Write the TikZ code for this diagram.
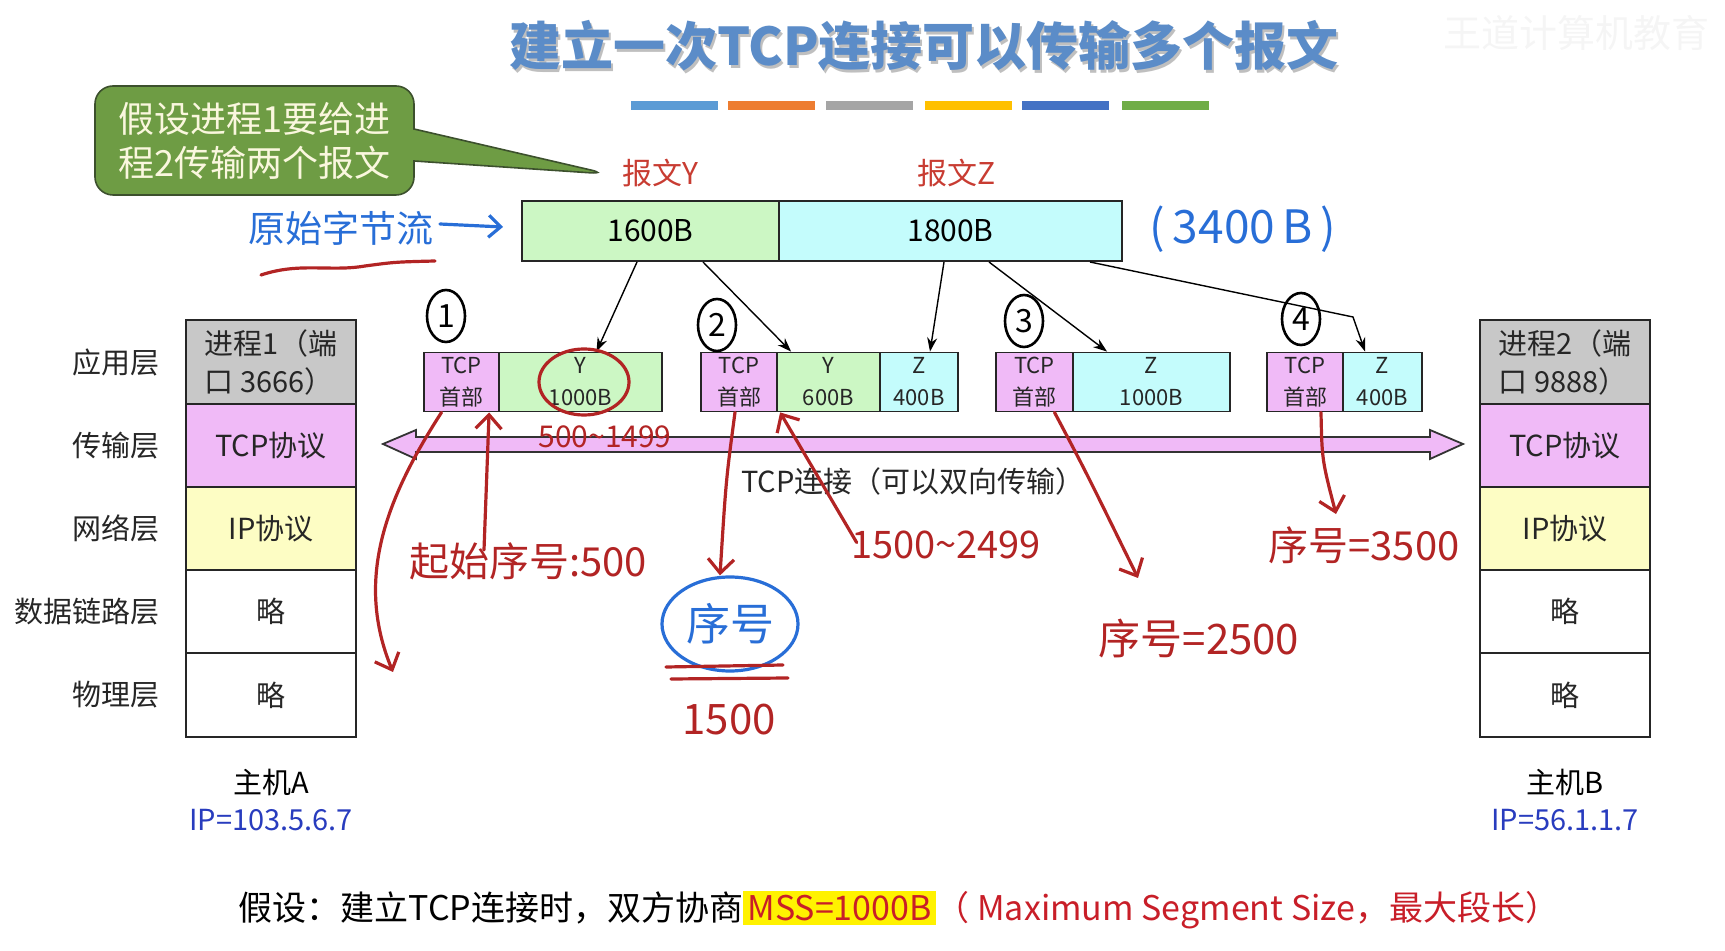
\documentclass[tikz,border=0pt]{standalone}
\usepackage{fontspec}
\setmainfont{Noto Sans CJK SC}
\usetikzlibrary{arrows.meta,shapes.geometric,shapes.callouts,calc}
\definecolor{tgray}{RGB}{200,200,200}
\definecolor{tpink}{RGB}{240,186,247}
\definecolor{tyel}{RGB}{253,253,196}
\definecolor{tgreen}{RGB}{204,247,196}
\definecolor{tcyan}{RGB}{196,252,252}
\definecolor{hred}{RGB}{178,36,36}
\definecolor{hblue}{RGB}{40,110,215}
\definecolor{lred}{RGB}{200,60,50}
\definecolor{ipblue}{RGB}{40,60,190}
\definecolor{ttl}{RGB}{91,140,200}
\definecolor{cgreen}{RGB}{110,156,68}
\definecolor{cedge}{RGB}{60,80,45}
\definecolor{ctext}{RGB}{250,247,222}
\definecolor{cb1}{RGB}{91,155,213}
\definecolor{cb2}{RGB}{237,125,49}
\definecolor{cb3}{RGB}{165,165,165}
\definecolor{cb4}{RGB}{255,192,0}
\definecolor{cb5}{RGB}{68,114,196}
\definecolor{cb6}{RGB}{112,173,71}
\definecolor{mssred}{RGB}{200,30,40}
\newcommand{\fs}[1]{\fontsize{#1}{#1}\selectfont}
\begin{document}
\begin{tikzpicture}[x=0.5pt,y=-0.5pt,
  cell/.style={draw=black!85, line width=1pt, minimum width=85pt, minimum height=41.7pt,
    inner sep=0pt, font=\fontsize{14.5}{19}\selectfont, align=center, text=black!85},
  layer/.style={anchor=east, inner sep=0pt, font=\fs{14.5}, text=black!85},
  seg/.style={draw=black!85, line width=0.9pt, minimum height=29.5pt, inner sep=0pt,
    font=\fontsize{11}{16}\selectfont, align=center, text=black!85},
  bar/.style={draw=black!85, line width=1pt, minimum height=30pt, inner sep=0pt, font=\fs{15}},
  feed/.style={-{Stealth[length=7pt,width=5pt]}, line width=0.7pt},
  hand/.style={hred, line width=1.6pt, line cap=round, line join=round},
  handarrow/.style={hand, -{Straight Barb[length=7pt,width=13pt]}},
  htext/.style={text=hred, inner sep=0pt},
  num/.style={draw, ellipse, line width=1.3pt, minimum width=19pt, minimum height=26pt,
    inner sep=0pt, font=\fs{16}},
  cbar/.style={minimum width=43.5pt, minimum height=4.5pt, inner sep=0pt},
  host/.style={inner sep=0pt, font=\fs{14.5}}
]
\useasboundingbox (0,0) rectangle (1725,951);

% watermark
\node[text=black!4, font=\fs{19}, inner sep=0pt] (wm) at (1576,33) {王道计算机教育};

% title
\node[text=black!25, font=\bfseries\fs{26}, inner sep=0pt] (titleshadow) at (926,49) {建立一次TCP连接可以传输多个报文};
\node[text=ttl, font=\bfseries\fs{26}, inner sep=0pt] (title) at (924,46) {建立一次TCP连接可以传输多个报文};

% colour bars
\node[cbar, fill=cb1] (cb1n) at (674.5,106) {};
\node[cbar, fill=cb2] (cb2n) at (771.5,106) {};
\node[cbar, fill=cb3] (cb3n) at (869.5,106) {};
\node[cbar, fill=cb4] (cb4n) at (968.5,106) {};
\node[cbar, fill=cb5] (cb5n) at (1065.5,106) {};
\node[cbar, fill=cb6] (cb6n) at (1165,106) {};

% callout
\node[rectangle callout, rounded corners=9pt, fill=cgreen, draw=cedge, line width=0.8pt,
  minimum width=159.5pt, minimum height=54.5pt, inner sep=0pt, align=left,
  callout absolute pointer={(608,174)}, callout pointer width=16pt,
  text=ctext, font=\fontsize{18}{22}\selectfont] (callout) at (254.5,140.5)
  {假设进程1要给进\\程2传输两个报文};

% message labels
\node[text=lred, font=\fs{15}, inner sep=0pt] (lY) at (660,173) {报文Y};
\node[text=lred, font=\fs{15}, inner sep=0pt] (lZ) at (957,173) {报文Z};

% top byte stream
\node[bar, fill=tgreen, minimum width=128.5pt] (bY) at (650.5,231) {1600B};
\node[bar, fill=tcyan, minimum width=171.5pt] (bZ) at (950.5,231) {1800B};

% handwritten blue
\node[text=hblue, font=\fs{18.5}, inner sep=0pt] (ys) at (341,228) {原始字节流};
\draw[hblue, line width=1.6pt, line cap=round, -{Straight Barb[length=6pt,width=11pt]}]
  ([xshift=3pt,yshift=2pt]ys.east) -- ([xshift=-9pt,yshift=2pt]bY.west);
\draw[hand] (261,275) .. controls (300,262) and (330,272) .. (365,266) .. controls (395,262) .. (435,261);
\node[text=hblue, font=\fs{23}, inner sep=0pt] (tot) at (1243,229) {(\,3400\,B\,)};

% left stack
\node[layer] (la1) at (160,362) {应用层};
\node[layer] (la2) at (160,445.5) {传输层};
\node[layer] (la3) at (160,528.5) {网络层};
\node[layer] (la4) at (160,611.5) {数据链路层};
\node[layer] (la5) at (160,695) {物理层};
\node[cell, fill=tgray, align=left] (a1) at (271,362) {进程1（端\\口 3666）};
\node[cell, fill=tpink] (a2) at (271,445.5) {TCP协议};
\node[cell, fill=tyel] (a3) at (271,528.5) {IP协议};
\node[cell, fill=white] (a4) at (271,611.5) {略};
\node[cell, fill=white] (a5) at (271,695) {略};
\node[host] (hA) at (271,782) {主机A};
\node[host, text=ipblue] (ipA) at (271,820) {IP=103.5.6.7};

% right stack
\node[cell, fill=tgray, align=left] (b1) at (1565,362) {进程2（端\\口 9888）};
\node[cell, fill=tpink] (b2) at (1565,445.5) {TCP协议};
\node[cell, fill=tyel] (b3) at (1565,528.5) {IP协议};
\node[cell, fill=white] (b4) at (1565,611.5) {略};
\node[cell, fill=white] (b5) at (1565,695) {略};
\node[host] (hB) at (1565,782) {主机B};
\node[host, text=ipblue] (ipB) at (1565,820) {IP=56.1.1.7};

% segments
\node[seg, fill=tpink, minimum width=37.5pt] (s1h) at (461.5,382) {TCP\\首部};
\node[seg, fill=tgreen, minimum width=81.5pt] (s1y) at (580.5,382) {Y\\1000B};
\node[seg, fill=tpink, minimum width=38pt] (s2h) at (739,382) {TCP\\首部};
\node[seg, fill=tgreen, minimum width=51.5pt] (s2y) at (828.5,382) {Y\\600B};
\node[seg, fill=tcyan, minimum width=39pt] (s2z) at (919,382) {Z\\400B};
\node[seg, fill=tpink, minimum width=38.5pt] (s3h) at (1034.5,382) {TCP\\首部};
\node[seg, fill=tcyan, minimum width=78.5pt] (s3z) at (1151.5,382) {Z\\1000B};
\node[seg, fill=tpink, minimum width=38pt] (s4h) at (1305,382) {TCP\\首部};
\node[seg, fill=tcyan, minimum width=39.5pt] (s4z) at (1382.5,382) {Z\\400B};

% feed arrows
\draw[feed] ([xshift=58pt]bY.south west) -- ([xshift=8pt]s1y.north);
\draw[feed] ([xshift=91pt]bY.south west) -- ([xshift=7.5pt]s2y.north west);
\draw[feed] ([xshift=83pt]bZ.south west) -- ([xshift=5.5pt]s2z.north);
\draw[feed] ([xshift=105.5pt]bZ.south west) -- ([xshift=17.5pt]s3z.north west);
\coordinate (bend) at (1353,317);
\draw[feed] ([xshift=156pt]bZ.south west) -- (bend) -- ([xshift=11.5pt]s4z.north west);

% TCP connection double arrow
\draw[draw=black!80, fill=tpink, line width=0.9pt, line join=miter]
  (383,444) -- (416,430) -- (416,437) -- (1430,437) -- (1430,430) -- (1463,444)
  -- (1430,459) -- (1430,452) -- (416,452) -- (416,459) -- cycle;
\node[font=\fs{14.5}, inner sep=0pt, text=black!85] (conn) at (913,481) {TCP连接（可以双向传输）};

% circled numbers
\node[num] (n1) at (446,316) {1};
\node[num] (n2) at (717,325) {2};
\node[num] (n3) at (1024,321) {3};
\node[num] (n4) at (1301,319) {4};

% red annotations
\node[draw=hred, ellipse, line width=1.6pt, minimum width=45pt, minimum height=33pt] (ry) at (584,382) {};
\node[htext, font=\fs{15}] (r1) at (605,437) {500\textasciitilde1499};
\node[htext, font=\fs{20}] (qs) at (528,561) {起始序号:500};
\node[htext, font=\fs{19}] (r2) at (946,545) {1500\textasciitilde2499};
\node[htext, font=\fs{21}] (r3) at (1199,638) {序号=2500};
\node[htext, font=\fs{20}] (r4) at (1364,545) {序号=3500};
\node[draw=hblue, ellipse, line width=1.6pt, text=hblue, font=\fs{22},
  minimum width=68pt, minimum height=47pt, inner sep=0pt] (xh) at (730,624) {序号};
\draw[hand] (666,667) -- (783,665);
\draw[hand] (671,679) -- (788,678);
\node[htext, font=\fs{21}] (u15) at (729,720) {1500};

\coordinate (ea) at (393,672);
\draw[handarrow] ([xshift=-10pt]s1h.south) .. controls (385,500) and (355,580) .. (ea);
\draw[handarrow] ([xshift=-22pt,yshift=-4pt]qs.north) -- ([xshift=-4.5pt]s1y.south west);
\draw[handarrow] ([xshift=-2pt]s2h.south) .. controls (726,480) .. ([xshift=-5pt]xh.north);
\draw[handarrow] ([xshift=3pt,yshift=-6pt]r2.north west) -- ([xshift=2pt]s2y.south west);
\coordinate (e3) at (1138,578);
\draw[handarrow] ([xshift=10pt]s3h.south) .. controls (1085,470) .. (e3);
\draw[handarrow] ([xshift=8pt]s4h.south) .. controls (1322,460) .. ([xshift=-14pt,yshift=6pt]r4.north);

% bottom note
\node[inner sep=0pt, font=\fs{17}] (note) at (899,910)
  {假设：建立TCP连接时，双方协商{\setlength{\fboxsep}{2pt}\colorbox{yellow}{\textcolor{mssred}{MSS=1000B}}}\textcolor{mssred}{（ Maximum Segment Size，最大段长）}};
\end{tikzpicture}
\end{document}
